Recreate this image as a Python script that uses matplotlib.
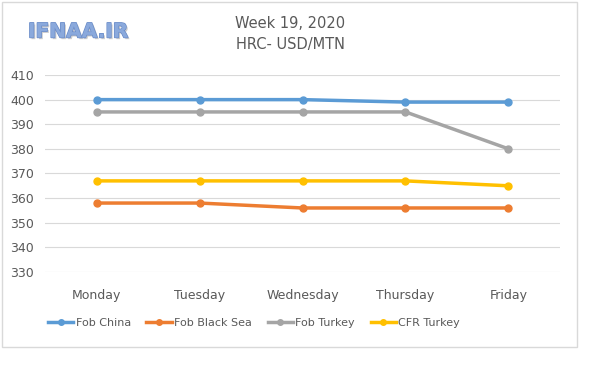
import matplotlib.pyplot as plt
import matplotlib.patheffects as pe
from matplotlib.patches import Rectangle

days = ['Monday', 'Tuesday', 'Wednesday', 'Thursday', 'Friday']
fob_china = [400, 400, 400, 399, 399]
fob_black_sea = [358, 358, 356, 356, 356]
fob_turkey = [395, 395, 395, 395, 380]
cfr_turkey = [367, 367, 367, 367, 365]

series = [
    ('Fob China', fob_china, '#5b9bd5'),
    ('Fob Black Sea', fob_black_sea, '#ed7d31'),
    ('Fob Turkey', fob_turkey, '#a5a5a5'),
    ('CFR Turkey', cfr_turkey, '#ffc000'),
]

W, H = 600, 387
fig = plt.figure(figsize=(6, 3.87), dpi=100)
fig.patch.set_facecolor('white')

# outer chart frame
fig.patches.append(Rectangle((2 / W, 1 - 347 / H), 575 / W, 345 / H,
                             transform=fig.transFigure, fill=False,
                             edgecolor='#d9d9d9', linewidth=1))

ax = fig.add_axes([45 / W, 1 - 272 / H, 515 / W, 197 / H])
x = range(len(days))
for name, vals, col in series:
    ax.plot(x, vals, color=col, linewidth=2.5, marker='o', markersize=5, label=name)

ax.set_xlim(-0.5, len(days) - 0.5)
ax.set_ylim(330, 410)
ax.set_yticks(range(330, 411, 10))
ax.set_xticks(list(x))
ax.set_xticklabels(days)
ax.grid(axis='y', color='#d9d9d9', linewidth=0.8)
ax.set_axisbelow(True)
for s in ax.spines.values():
    s.set_visible(False)
ax.tick_params(length=0, labelsize=9, colors='#595959', pad=8)
ax.tick_params(axis='x', pad=12)

fig.text(290 / W, 1 - 23 / H, 'Week 19, 2020', ha='center', va='center',
         fontsize=10.5, color='#595959')
fig.text(290 / W, 1 - 45 / H, 'HRC- USD/MTN', ha='center', va='center',
         fontsize=10.5, color='#595959')
fig.text(28 / W, 1 - 32 / H, 'IFNAA.IR', ha='left', va='center',
         fontsize=14.5, color='#8aa9dc', fontweight='bold',
         path_effects=[pe.withSimplePatchShadow(offset=(1.2, -1.2), shadow_rgbFace='#c0c0c0', alpha=0.8),
                       pe.withStroke(linewidth=1, foreground='#6a8cc8')])

ax.legend(loc='center', bbox_to_anchor=(254 / W, 1 - 323 / H),
          bbox_transform=fig.transFigure, ncol=4, frameon=False,
          fontsize=8, labelcolor='#595959', handlelength=2.3,
          handletextpad=0.2, columnspacing=1.4, markerscale=0.8)

fig.savefig('out.png', dpi=100)
